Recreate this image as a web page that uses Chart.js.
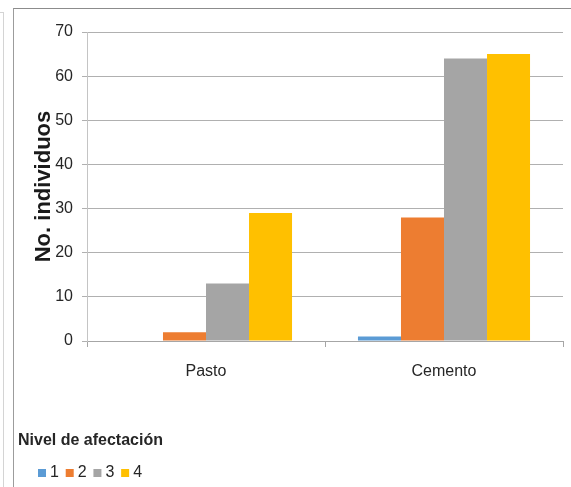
<!DOCTYPE html>
<html>
<head>
<meta charset="utf-8">
<script src="https://cdn.jsdelivr.net/npm/chart.js@4/dist/chart.umd.min.js"></script>
<style>
  html, body { margin: 0; padding: 0; background: #ffffff; }
  body { width: 571px; height: 487px; position: relative; overflow: hidden; }
  .outer-frame { position: absolute; left: 0; top: 12px; width: 3px; height: 480px;
                 border-top: 1px solid #d4d4d4; border-right: 1px solid #d4d4d4; }
  .chart-frame { position: absolute; left: 13px; top: 8px; width: 600px; height: 500px;
                 border-top: 1px solid #8c8c8c; border-left: 1px solid #9c9c9c; }
  #chart { position: absolute; left: 0; top: 0; }
</style>
</head>
<body>
<div class="outer-frame"></div>
<div class="chart-frame"></div>
<canvas id="chart" width="571" height="487"></canvas>
<script>
// Data: individuals counted per site, split by damage level
const categories = ['Pasto', 'Cemento'];
const levelLabels = ['1', '2', '3', '4'];
const nivel1 = [0, 1];
const nivel2 = [2, 28];
const nivel3 = [13, 64];
const nivel4 = [29, 65];
const yTickValues = [0, 10, 20, 30, 40, 50, 60, 70];

const levelColors = ['#5B9BD5', '#ED7D31', '#A5A5A5', '#FFC000'];
const levelSeries = [nivel1, nivel2, nivel3, nivel4];

const SANS = '"Liberation Sans", Arial, sans-serif';
const TEXT = '#262626';

// Indent the legend swatches under the heading and drop them a little lower
const legendIndent = {
  id: 'legendIndent',
  afterLayout(chart) {
    const lg = chart.legend;
    if (lg) {
      lg.left += 13.2; lg.right += 13.2;
      lg.top += 4; lg.bottom += 4;
    }
  }
};

new Chart(document.getElementById('chart'), {
  type: 'bar',
  data: {
    labels: categories,
    datasets: levelSeries.map((vals, i) => ({
      label: levelLabels[i],
      data: vals,
      backgroundColor: levelColors[i],
      borderWidth: 0,
      categoryPercentage: 0.723,
      barPercentage: 1.0
    }))
  },
  options: {
    responsive: false,
    animation: false,
    layout: { padding: { left: 18, top: 32, right: 8, bottom: 0 } },
    plugins: {
      tooltip: { enabled: false },
      title: {
        display: true,
        text: 'Nivel de afectación',
        position: 'bottom',
        align: 'start',
        color: TEXT,
        font: { family: SANS, size: 16, weight: 'bold' },
        padding: { top: 10, bottom: 0.5 }
      },
      legend: {
        position: 'bottom',
        align: 'start',
        weight: 3000,
        labels: {
          usePointStyle: true,
          pointStyle: 'rect',
          boxWidth: 0.01,
          boxHeight: 8,
          padding: 10.8,
          color: TEXT,
          font: { family: SANS, size: 16 }
        }
      }
    },
    scales: {
      x: {
        grid: { offset: true, drawOnChartArea: false, tickLength: 6, color: '#a6a6a6' },
        border: { color: '#a6a6a6' },
        ticks: { color: TEXT, font: { family: SANS, size: 16 }, padding: 15 },
        afterFit(scale) { scale.height = 79.5; }
      },
      y: {
        min: 0,
        max: 70,
        afterBuildTicks(scale) { scale.ticks = yTickValues.map(v => ({ value: v })); },
        grid: { color: '#b0b0b0', tickLength: 5 },
        border: { color: '#c4c4c4' },
        ticks: { color: TEXT, font: { family: SANS, size: 16 }, padding: 9 },
        title: {
          display: true,
          text: 'No. individuos',
          color: '#1a1a1a',
          font: { family: SANS, size: 22, weight: 'bold' },
          padding: { top: 13, bottom: 0 }
        },
        afterFit(scale) { scale.width = 69; }
      }
    }
  },
  plugins: [legendIndent]
});
</script>
</body>
</html>
